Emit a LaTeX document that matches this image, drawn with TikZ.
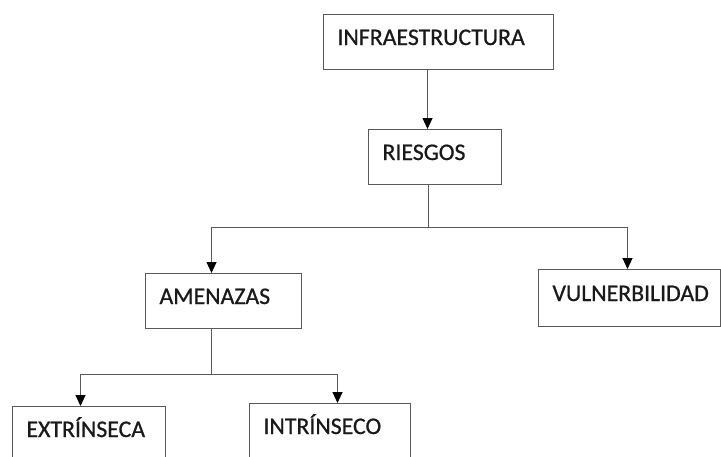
\documentclass[tikz,border=0pt]{standalone}
\usepackage{fontspec}
\setmainfont{Carlito}
\newfontfamily\cajafont{Carlito}[FakeBold=0.8]
\usetikzlibrary{arrows.meta}
\tikzset{caja/.style={rectangle, draw=black!65, line width=1pt, anchor=north west,
    align=left, inner xsep=14pt, inner ysep=15.5pt, text height=15pt, text depth=9pt,
    font=\cajafont\fontsize{23.8}{24}\selectfont, text=black!90},
  flecha/.style={draw=black!65, line width=1pt, -{Triangle[width=10pt,length=11pt,color=black]}},
  linea/.style={draw=black!65, line width=1pt}}

\begin{document}
\begin{tikzpicture}[x=1pt,y=-1pt]
\useasboundingbox (0,0) rectangle (721,456);
\clip (0,0) rectangle (721,456);
% cajas
\node[caja, text width=202pt] (infra) at (323,14) {INFRAESTRUCTURA};
\node[caja, text width=105pt] (riesgos) at (368,129) {RIESGOS};
\node[caja, text width=128pt] (amenazas) at (145,273) {AMENAZAS};
\node[caja, text width=154pt, inner ysep=16.5pt] (vulner) at (538,269) {VULNERBILIDAD};
\node[caja, text width=125pt] (extrin) at (12,406) {EXTR\'INSECA};
\node[caja, text width=133pt] (intrin) at (249,403) {INTR\'INSECO};
% conectores
\draw[flecha] ([xshift=-11pt]infra.south) -- ([xshift=-11pt]infra.south |- riesgos.north);
\coordinate (rsplit) at ([xshift=-6.5pt,yshift=-42pt]riesgos.south);
\draw[linea] ([xshift=-6.5pt]riesgos.south) -- (rsplit);
\draw[flecha] (rsplit) -| ([xshift=-12pt]amenazas.north);
\draw[flecha] (rsplit) -| ([xshift=-2pt]vulner.north);
\coordinate (asplit) at ([xshift=-12pt,yshift=-45pt]amenazas.south);
\draw[linea] ([xshift=-12pt]amenazas.south) -- (asplit);
\draw[flecha] (asplit) -| ([xshift=-8.5pt]extrin.north);
\draw[flecha] (asplit) -| ([xshift=7.5pt]intrin.north);
\end{tikzpicture}
\end{document}
